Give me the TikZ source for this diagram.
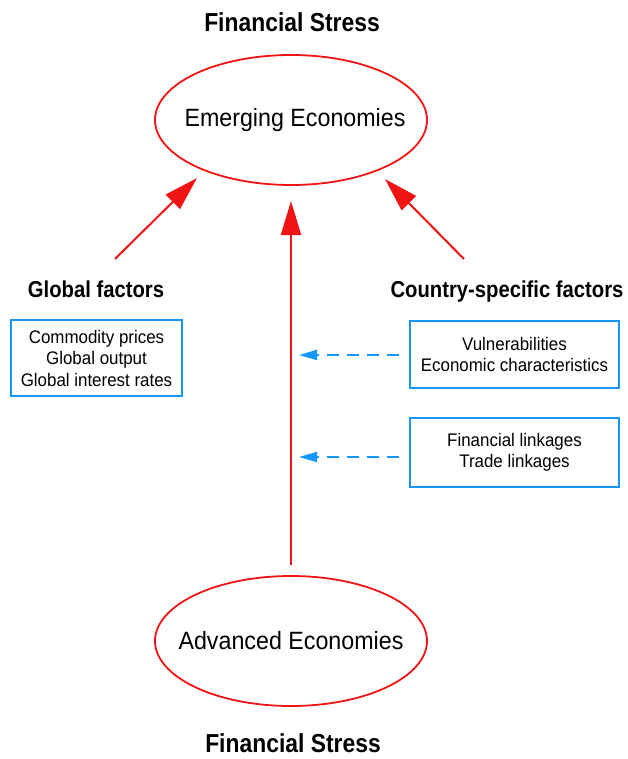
\documentclass[tikz,border=0pt]{standalone}
\usepackage{fontspec}
\setmainfont{Liberation Sans}[FakeStretch=0.93,BoldFeatures={FakeStretch=0.88}]
\usetikzlibrary{shapes.geometric,arrows.meta,calc}
\definecolor{sred}{RGB}{240,20,20}
\definecolor{sblue}{RGB}{20,150,250}
\begin{document}
\begin{tikzpicture}[x=1pt,y=-1pt,
  econ/.style={ellipse,draw=sred,line width=1.8pt,minimum width=272pt,minimum height=130pt,inner sep=0pt,font=\fontsize{25}{30}\selectfont},
  headtxt/.style={anchor=base,font=\fontsize{26}{30}\selectfont\bfseries},
  factxt/.style={anchor=base,font=\fontsize{23}{28}\selectfont\bfseries},
  factbox/.style={draw=sblue,line width=1.5pt,align=center,inner sep=0pt,font=\fontsize{18.2}{21.5}\selectfont},
  redarrow/.style={draw=sred,line width=2pt,-{Triangle[length=34pt,width=20pt]}},
  bluearrow/.style={draw=sblue,line width=2pt,dash pattern=on 12pt off 8pt,-{Triangle[length=18pt,width=10pt]}}
]
\useasboundingbox (0,0) rectangle (628,759);
\node[headtxt] (fs1) at (292,32) {Financial Stress};
\node[econ] (em) at (291,120) {\raisebox{-2pt}{\makebox[0pt]{\hspace*{8pt}Emerging Economies}}};
\node[econ] (adv) at (291,641) {\makebox[0pt]{Advanced Economies}};
\node[headtxt] (fs2) at (293,752) {Financial Stress};
\node[factxt] (gf) at (96,297) {Global factors};
\node[factxt] (cf) at (507,297) {Country-specific factors};
\node[factbox,minimum width=171pt,minimum height=76pt] (gb) at (96.5,358) {Commodity prices\\Global output\\Global interest rates};
\node[factbox,minimum width=209pt,minimum height=67pt] (vb) at (514.5,354.5) {Vulnerabilities\\Economic characteristics};
\node[factbox,minimum width=209pt,minimum height=69pt] (lb) at (514.5,452.5) {Financial linkages\\Trade linkages};
\coordinate (gs) at (115,259);
\coordinate (gt) at (197,178);
\coordinate (cs) at (464,259);
\coordinate (ct) at (385,179);
\coordinate (vl) at (291,0);
\coordinate (vs) at (291,565);
\coordinate (vt) at (291,201);
\draw[redarrow] (gs) -- (gt);
\draw[redarrow] (cs) -- (ct);
\draw[redarrow] (vs) -- (vt);
\draw[bluearrow] ($(vb.west)+(-10,0.5)$) -- ($(vb.west -| vl)+(8,0.5)$);
\draw[bluearrow] ($(lb.west)+(-10,4.5)$) -- ($(lb.west -| vl)+(8,4.5)$);
\end{tikzpicture}
\end{document}
